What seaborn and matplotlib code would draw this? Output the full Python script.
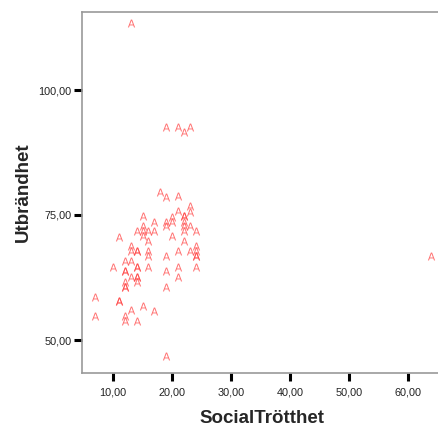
import numpy as np
import pandas as pd
import matplotlib
matplotlib.use("Agg")
import matplotlib.pyplot as plt
import seaborn as sns
from matplotlib.ticker import FuncFormatter

# values (SocialTrötthet vs Utbrändhet)
social = [13, 19, 21, 22, 23,
          18, 19, 21, 23, 21, 23, 15, 20, 22, 22, 17, 19, 20, 22,
          15, 19, 22, 23, 14, 15, 16, 17, 22, 24, 11, 15, 20, 16, 22,
          13, 24, 13, 14, 14, 16, 21, 23, 24, 16, 19, 24, 24, 12, 13,
          10, 12, 12, 14, 14, 16, 21, 24, 19, 13, 14, 14, 14, 21, 12,
          12, 12, 19, 7, 11, 11, 13, 15, 17, 7, 12, 12, 14, 19, 64]
utbrand = [113.5, 92.7, 92.7, 91.7, 92.7,
           79.7, 78.7, 78.8, 76.8, 75.9, 75.7, 74.8, 74.7, 74.8, 74.8, 73.7, 73.7, 73.7, 73.7,
           72.8, 72.8, 72.8, 72.8, 71.8, 71.8, 71.8, 71.8, 71.8, 71.8, 70.7, 70.8, 70.8, 69.8, 69.8,
           68.8, 68.8, 67.8, 67.8, 67.8, 67.8, 67.8, 67.8, 67.8, 66.8, 66.8, 66.8, 66.8, 65.9, 65.9,
           64.7, 63.9, 63.9, 64.7, 64.7, 64.7, 64.7, 64.7, 63.9, 62.7, 62.7, 62.7, 61.7, 62.7, 61.7,
           60.7, 60.7, 60.7, 58.7, 57.9, 57.9, 56.0, 56.9, 55.9, 54.9, 54.9, 53.9, 53.9, 46.9, 66.8]

x_ticks = [10, 20, 30, 40, 50, 60]
y_ticks = [50, 75, 100]

df = pd.DataFrame({"SocialTrötthet": social, "Utbrändhet": utbrand})

sns.set_style("white")
plt.rcParams['font.family'] = ['Liberation Sans', 'DejaVu Sans']

fig = plt.figure(figsize=(4.38, 4.29), dpi=100)
ax = fig.add_axes([82 / 438, 1 - 372.5 / 429, 1.01 - 82 / 438, (372.5 - 12) / 429])

sns.scatterplot(data=df, x="SocialTrötthet", y="Utbrändhet", marker=r"$\mathsf{A}$",
                s=32, color="#ff4040", alpha=0.75, linewidth=0, ax=ax)

ax.set_xlim(4.73, 65.9)
ax.set_ylim(43.5, 115.6)
ax.set_xticks(x_ticks)
ax.set_yticks(y_ticks)
fmt = FuncFormatter(lambda v, p: f"{v:.2f}".replace(".", ","))
ax.xaxis.set_major_formatter(fmt)
ax.yaxis.set_major_formatter(fmt)
ax.tick_params(axis="both", direction="out", length=6, width=2.2, color="black",
               labelsize=7.8, labelcolor="#222222", pad=5)
ax.tick_params(axis="x", bottom=True, pad=5)
ax.tick_params(axis="y", left=True, pad=1.5)

for side in ["left", "bottom", "top"]:
    ax.spines[side].set_color("#999999")
    ax.spines[side].set_linewidth(1.2)
ax.spines["right"].set_visible(False)

ax.set_xlabel("SocialTrötthet", fontsize=13.5, fontweight="bold", labelpad=9)
ax.set_ylabel("Utbrändhet", fontsize=13.5, fontweight="bold", labelpad=5)

fig.savefig("out.png", dpi=100)
